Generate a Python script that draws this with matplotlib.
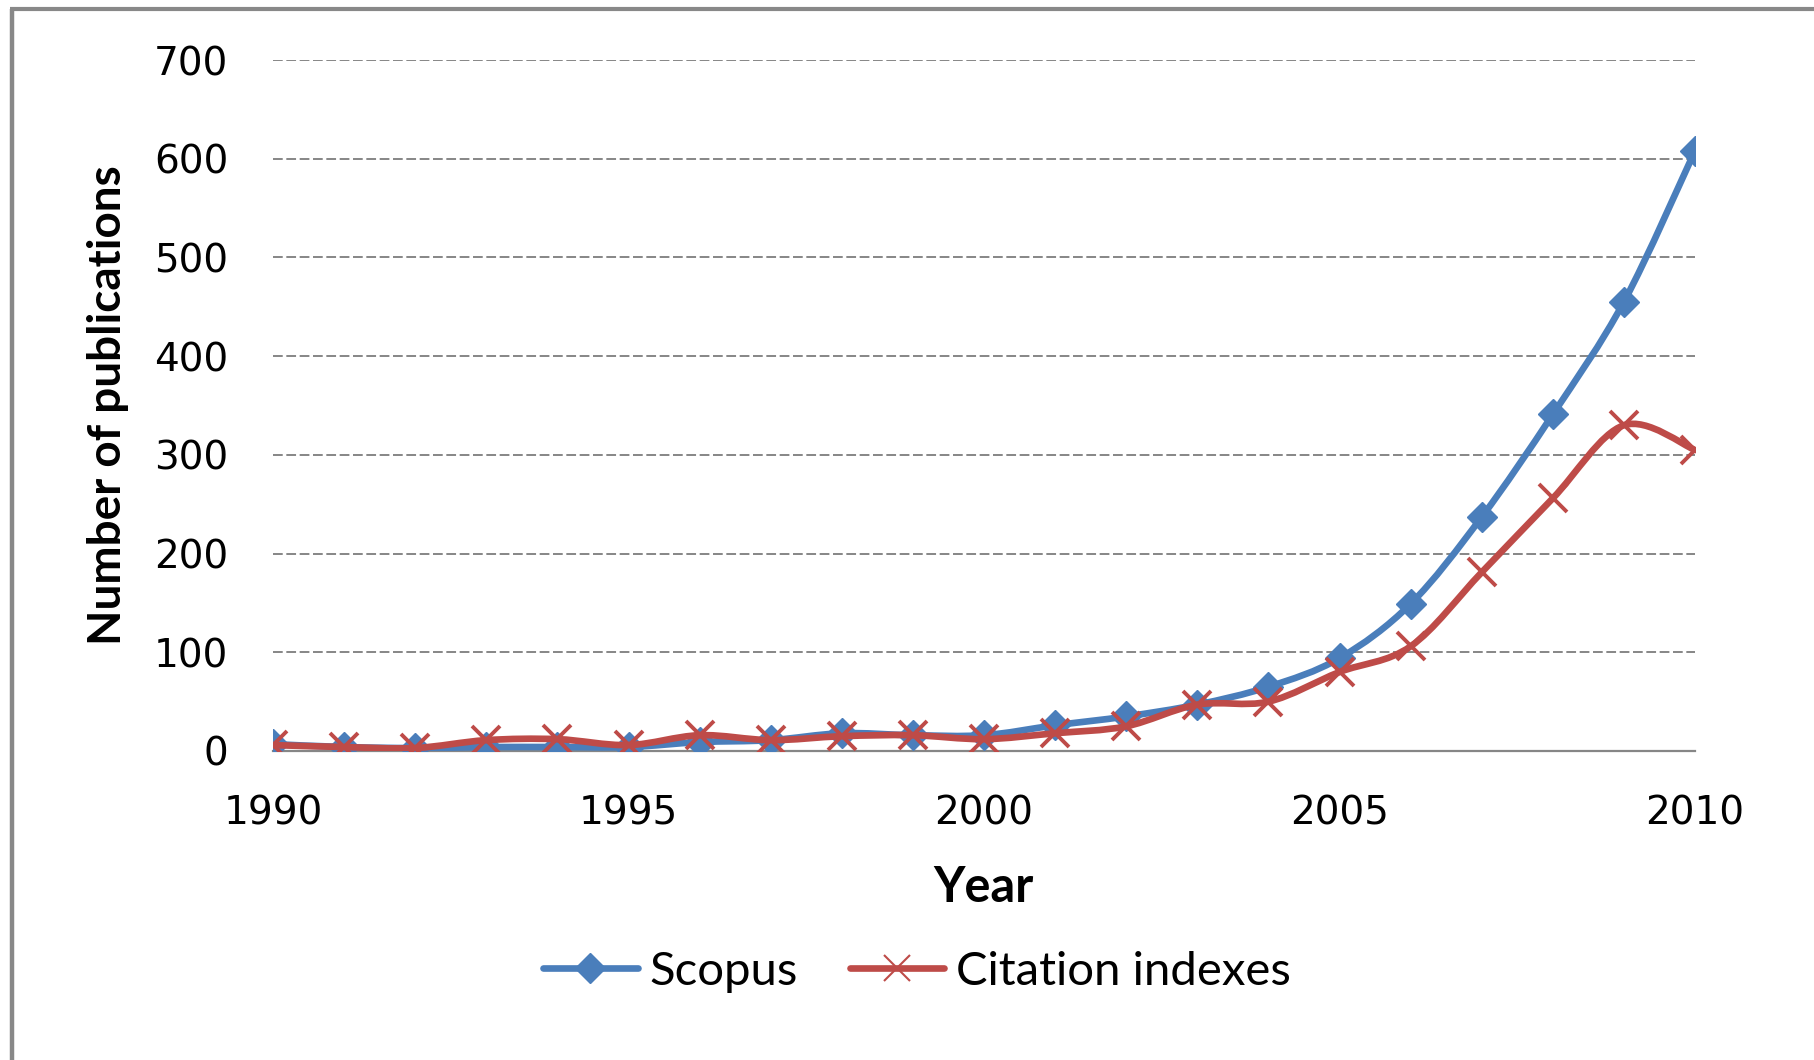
import numpy as np
import matplotlib
matplotlib.use("Agg")
import matplotlib.pyplot as plt
from matplotlib.path import Path
from matplotlib.patches import PathPatch
from matplotlib.lines import Line2D

# ---- data ----
years = list(range(1990, 2011))
scopus = [7, 4, 3, 4, 4, 4, 9, 11, 18, 16, 16, 26, 35, 47, 65, 94, 149, 237, 341, 455, 608]
citation = [6, 4, 3, 11, 12, 6, 16, 11, 15, 16, 12, 18, 25, 47, 50, 80, 106, 181, 256, 330, 305]
series_names = ["Scopus", "Citation indexes"]
yticks = [0, 100, 200, 300, 400, 500, 600, 700]
xticks = [1990, 1995, 2000, 2005, 2010]

BLUE = "#4A7EBB"
RED = "#BE4B48"
GRID = "#868686"

plt.rcParams["lines.scale_dashes"] = False
CAL = ["Lato", "DejaVu Sans"]

W, H = 1814, 1060
fig = plt.figure(figsize=(W / 100, H / 100), dpi=100)
fig.patch.set_facecolor("white")
ax = fig.add_axes([273 / W, 1 - 751 / H, (1695 - 273) / W, (751 - 60) / H])


def smooth_path(xs, ys):
    pts = np.column_stack([xs, ys]).astype(float)
    n = len(pts)
    verts = [pts[0]]
    codes = [Path.MOVETO]
    for i in range(n - 1):
        p0 = pts[i - 1] if i > 0 else pts[i]
        p3 = pts[i + 2] if i + 2 < n else pts[i + 1]
        c1 = pts[i] + (pts[i + 1] - p0) / 6.0
        c2 = pts[i + 1] - (p3 - pts[i]) / 6.0
        verts += [c1, c2, pts[i + 1]]
        codes += [Path.CURVE4] * 3
    return Path(verts, codes)


LW = 4.8
for yv, col, z in [(scopus, BLUE, 3), (citation, RED, 4)]:
    ax.add_patch(PathPatch(smooth_path(years, yv), fill=False, edgecolor=col,
                           lw=LW, capstyle="round", joinstyle="round", zorder=z))

ax.plot(years, scopus, linestyle="none", marker="D", ms=15, color=BLUE,
        mec=BLUE, zorder=3.5)
ax.plot(years, citation, linestyle="none", marker="x", ms=20, mew=2.8,
        color=RED, zorder=4.5)

ax.set_xlim(1990, 2010)
ax.set_ylim(0, 700)
ax.set_xticks(xticks)
ax.set_yticks(yticks)
ax.tick_params(axis="both", length=0, labelsize=28, colors="black")
ax.tick_params(axis="y", pad=32)
ax.tick_params(axis="x", pad=31)
for s in ["top", "right", "left"]:
    ax.spines[s].set_visible(False)
ax.spines["bottom"].set_color(GRID)
ax.spines["bottom"].set_linewidth(1.6)
ax.spines["bottom"].set_zorder(2)
ax.yaxis.grid(True, color=GRID, lw=1.4, dashes=(7, 2.6))
ax.set_axisbelow(True)

fig.text(108 / W, 1 - 405 / H, "Number of publications", rotation=90,
         ha="center", va="center", fontsize=33, fontweight="bold", family=CAL)
fig.text(983 / W, 1 - 887 / H, "Year", ha="center", va="center",
         fontsize=35, fontweight="bold", family=CAL)

handles = [
    Line2D([], [], color=BLUE, lw=LW, marker="D", ms=15, solid_capstyle="round"),
    Line2D([], [], color=RED, lw=LW, marker="x", ms=19, mew=1.5, solid_capstyle="round"),
]
fig.legend(handles, series_names, loc="center", bbox_to_anchor=(917 / W, 1 - 972 / H),
           ncol=2, frameon=False, prop={"family": CAL, "size": 34},
           handlelength=2.0, handletextpad=0.25, columnspacing=1.1)

# outer chart border (top and left only visible)
fig.add_artist(Line2D([11.5 / W, 11.5 / W], [0, 1 - 9 / H], color="#888888",
                      lw=3.2, transform=fig.transFigure, solid_capstyle="butt"))
fig.add_artist(Line2D([10 / W, 1], [1 - 9 / H, 1 - 9 / H], color="#888888",
                      lw=3.0, transform=fig.transFigure, solid_capstyle="butt"))

fig.savefig("out.png", dpi=100, facecolor="white")
